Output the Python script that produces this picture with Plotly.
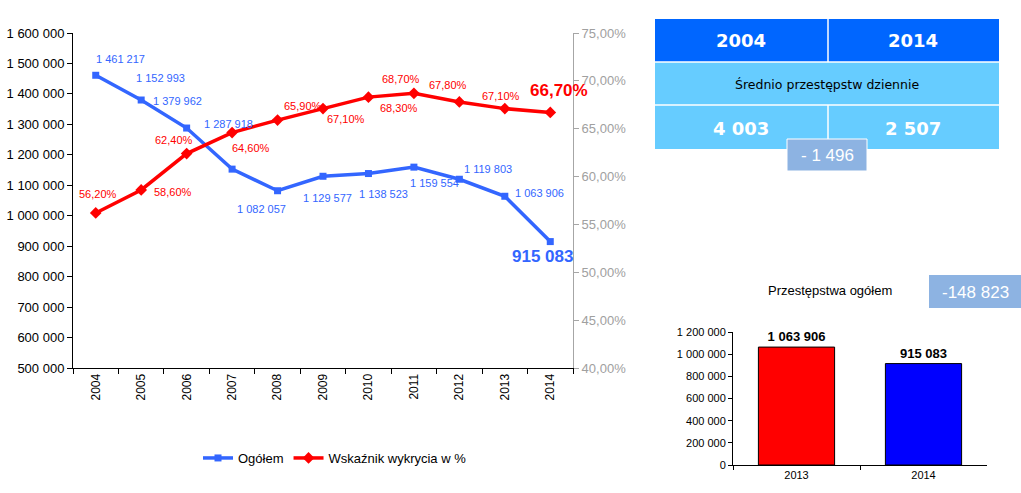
import plotly.graph_objects as go

# ---------------- data ----------------
years = ["2004", "2005", "2006", "2007", "2008", "2009", "2010", "2011", "2012", "2013", "2014"]
total_crimes = [1461217, 1379962, 1287918, 1152993, 1082057, 1129577, 1138523, 1159554, 1119803, 1063906, 915083]
detection_rate = [56.2, 58.6, 62.4, 64.6, 65.9, 67.1, 68.3, 68.7, 67.8, 67.1, 66.7]

# data labels exactly as printed in the reference
total_labels = ["1 461 217", "1 152 993", "1 379 962", "1 287 918", "1 082 057", "1 129 577",
                "1 138 523", "1 159 554", "1 119 803", "1 063 906", "915 083"]
rate_labels = ["56,20%", "58,60%", "62,40%", "64,60%", "65,90%", "67,10%",
               "68,30%", "68,70%", "67,80%", "67,10%", "66,70%"]

# label offsets (pixels, x right / y up)
total_dx = [25, 19, -9, -4, -16, 4, 15, 21, 29, 35, -8]
total_dy = [16, 22, 27, 45, -18, -22, -20, -16, 10, 3, -15]
rate_dx = [2, 32, -13, 19, 25, 23, 31, -13, -11, -4, 9]
rate_dy = [19, -2, 14, -15, 14, -10, -11, 14, 17, 13, 22]

compare_years = ["2013", "2014"]
compare_values = [1063906, 915083]
compare_colors = ["#FF0000", "#0000FF"]

table_years = ["2004", "2014"]
table_caption = "Średnio przestępstw dziennie"
daily_avg = ["4 003", "2 507"]
daily_diff = "- 1 496"
bar_title = "Przestępstwa ogółem"
total_diff = "-148 823"

# ---------------- helpers ----------------
W, H = 1021, 493
def px(x):
    return x / W
def py(y):
    return 1 - y / H

FONT = "Liberation Sans, Arial, sans-serif"
TFONT = "DejaVu Sans, Verdana, sans-serif"
BLUE = "#3366FF"
RED = "#FF0000"

fig = go.Figure()

fig.add_trace(go.Scatter(
    x=years, y=total_crimes, name="Ogółem", mode="lines+markers",
    line=dict(color=BLUE, width=3.5),
    marker=dict(symbol="square", size=7, color=BLUE),
    xaxis="x", yaxis="y",
))
fig.add_trace(go.Scatter(
    x=years, y=detection_rate, name="Wskaźnik wykrycia w %", mode="lines+markers",
    line=dict(color=RED, width=3.5),
    marker=dict(symbol="diamond", size=9, color=RED),
    xaxis="x", yaxis="y2",
))
fig.add_trace(go.Bar(
    x=compare_years, y=compare_values, showlegend=False,
    marker=dict(color=compare_colors, line=dict(color="#000000", width=1)),
    width=0.6,
    texttemplate="%{y:,d}", textposition="outside",
    textfont=dict(family=FONT, size=13, color="#000000", weight="bold"),
    cliponaxis=False,
    xaxis="x2", yaxis="y3",
))

annotations = []
n = len(years)
for i in range(n):
    last = i == n - 1
    annotations.append(dict(
        x=i, y=total_crimes[i], xref="x", yref="y",
        text=total_labels[i], showarrow=False, xanchor="center", yanchor="middle",
        xshift=total_dx[i], yshift=total_dy[i],
        font=dict(family=FONT, size=17 if last else 11, color=BLUE,
                  weight="bold" if last else "normal"),
    ))
    annotations.append(dict(
        x=i, y=detection_rate[i], xref="x", yref="y2",
        text=rate_labels[i], showarrow=False, xanchor="center", yanchor="middle",
        xshift=rate_dx[i], yshift=rate_dy[i],
        font=dict(family=FONT, size=17 if last else 11, color=RED,
                  weight="bold" if last else "normal"),
    ))

def paper_text(x, y, text, font):
    return dict(x=px(x), y=py(y), xref="paper", yref="paper", text=text, showarrow=False,
                xanchor="center", yanchor="middle", font=font)

annotations += [
    paper_text(741, 41, table_years[0], dict(family=TFONT, size=18, color="white", weight="bold")),
    paper_text(913, 41, table_years[1], dict(family=TFONT, size=18, color="white", weight="bold")),
    paper_text(827, 84, table_caption, dict(family=TFONT, size=12.5, color="#000000")),
    paper_text(741, 128, daily_avg[0], dict(family=TFONT, size=18, color="white", weight="bold")),
    paper_text(913, 128, daily_avg[1], dict(family=TFONT, size=18, color="white", weight="bold")),
    paper_text(827, 155, daily_diff, dict(family=FONT, size=17, color="white")),
    paper_text(830, 290, bar_title, dict(family=FONT, size=13, color="#000000")),
    paper_text(975, 292, total_diff, dict(family=FONT, size=17, color="white")),
]

shapes = [
    dict(type="rect", xref="paper", yref="paper", x0=px(655), x1=px(999), y0=py(62), y1=py(19),
         fillcolor="#0066FF", line=dict(width=0), layer="below"),
    dict(type="rect", xref="paper", yref="paper", x0=px(655), x1=px(999), y0=py(149), y1=py(62),
         fillcolor="#66CCFF", line=dict(width=0), layer="below"),
    dict(type="line", xref="paper", yref="paper", x0=px(655), x1=px(999), y0=py(62), y1=py(62),
         line=dict(color="white", width=1.5)),
    dict(type="line", xref="paper", yref="paper", x0=px(655), x1=px(999), y0=py(105), y1=py(105),
         line=dict(color="white", width=1.5)),
    dict(type="line", xref="paper", yref="paper", x0=px(828), x1=px(828), y0=py(62), y1=py(19),
         line=dict(color="white", width=1.5)),
    dict(type="line", xref="paper", yref="paper", x0=px(828), x1=px(828), y0=py(149), y1=py(105),
         line=dict(color="white", width=1.5)),
    dict(type="rect", xref="paper", yref="paper", x0=px(787), x1=px(867), y0=py(171), y1=py(139),
         fillcolor="#8DB3E2", line=dict(color="white", width=1)),
    dict(type="rect", xref="paper", yref="paper", x0=px(929), x1=px(1021), y0=py(308), y1=py(275),
         fillcolor="#8DB3E2", line=dict(width=0), layer="below"),
]

fig.update_layout(
    width=W, height=H,
    margin=dict(l=0, r=0, t=0, b=0, autoexpand=False),
    paper_bgcolor="white", plot_bgcolor="white",
    separators=", ",
    font=dict(family=FONT, color="#000000"),
    showlegend=True,
    legend=dict(orientation="h", x=px(335), y=py(458), xanchor="center", yanchor="middle",
                font=dict(family=FONT, size=13, color="#000000"), bgcolor="rgba(0,0,0,0)"),
    xaxis=dict(domain=[px(73), px(573)], type="category", tickson="boundaries",
               range=[-0.5, len(years) - 0.5], automargin=False,
               ticks="outside", ticklen=5, tickcolor="#000000", showline=True,
               linecolor="#000000", linewidth=1, showgrid=False, tickangle=-90,
               tickfont=dict(family=FONT, size=12, color="#000000"), anchor="y"),
    yaxis=dict(domain=[py(368), py(33)], range=[500000, 1600000], dtick=100000,
               tickformat=",d", ticks="outside", ticklen=5, tickcolor="#000000",
               showline=True, linecolor="#000000", linewidth=1, showgrid=False,
               zeroline=False, tickfont=dict(family=FONT, size=13, color="#000000"),
               automargin=False, anchor="x"),
    yaxis2=dict(domain=[py(368), py(33)], range=[40, 75], dtick=5, overlaying="y",
                side="right", tickformat=".2f", ticksuffix="%", ticks="outside", ticklen=5,
                tickcolor="#A6A6A6", showline=True, linecolor="#A6A6A6", linewidth=1,
                showgrid=False, zeroline=False, automargin=False,
                tickfont=dict(family=FONT, size=13, color="#A0A0A0"), anchor="x"),
    xaxis2=dict(domain=[px(733), px(987)], type="category", tickson="boundaries",
                ticks="outside", ticklen=4, tickcolor="#000000", showline=True,
                linecolor="#000000", linewidth=1, showgrid=False, automargin=False,
                tickfont=dict(family=FONT, size=11, color="#000000"), anchor="y3"),
    yaxis3=dict(domain=[py(465), py(332)], range=[0, 1200000], dtick=200000,
                tickformat=",d", ticks="outside", ticklen=4, tickcolor="#000000",
                showline=True, linecolor="#000000", linewidth=1, showgrid=False,
                zeroline=False, tickfont=dict(family=FONT, size=11, color="#000000"),
                automargin=False, anchor="x2"),
    annotations=annotations,
    shapes=shapes,
)

fig.write_html("out.html", config={"displayModeBar": False},
               post_script="document.body.style.margin='0px';")
